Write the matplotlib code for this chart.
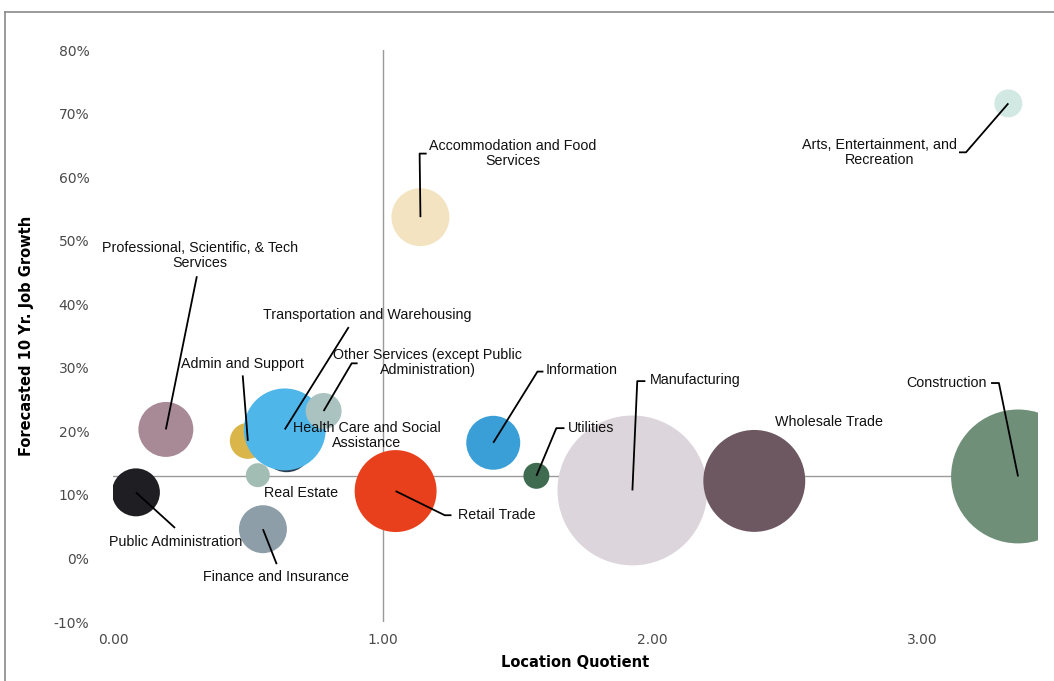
import matplotlib
matplotlib.use("Agg")
import matplotlib.pyplot as plt
from matplotlib.lines import Line2D
from matplotlib.ticker import FuncFormatter

# ---------------- data ----------------
industries = [
    "Manufacturing", "Wholesale Trade", "Construction", "Retail Trade",
    "Health Care and Social Assistance", "Admin and Support",
    "Other Services (except Public Administration)",
    "Transportation and Warehousing", "Real Estate", "Professional, Scientific, & Tech Services",
    "Public Administration", "Finance and Insurance", "Accommodation and Food Services",
    "Arts, Entertainment, and Recreation", "Information", "Utilities",
]
location_quotient = [1.926, 2.378, 3.356, 1.048, 0.644, 0.500, 0.781, 0.637,
                     0.537, 0.196, 0.085, 0.556, 1.140, 3.320, 1.410, 1.570]
job_growth = [10.7, 12.2, 12.9, 10.6, 17.5, 18.5, 23.2, 20.3,
              13.1, 20.3, 10.4, 4.6, 53.7, 71.6, 18.2, 13.0]
bubble_size = [5625, 2601, 4489, 1681, 625, 324, 324, 1681,
               144, 756, 576, 576, 841, 196, 729, 169]
colors = ["#dcd6dc", "#6d5862", "#6f8f78", "#e8401c", "#2c3e50", "#d9b54a",
          "#aac3c0", "#4fb6ea", "#a2bdb4", "#a88a96", "#1f1f23", "#8d9ea8",
          "#f3e3c1", "#d2e8e2", "#3a9fd6", "#3f6b50"]

y_ticks = [-10, 0, 10, 20, 30, 40, 50, 60, 70, 80]
x_ticks = [0, 1, 2, 3]
x_cross = 1.0     # y-axis crosses here
y_cross = 13.0    # x-axis crosses here

# label text, position, alignment, leader-line waypoints (from label towards bubble)
labels = {
    "Professional, Scientific, & Tech Services": ("Professional, Scientific, & Tech\nServices", (0.322, 47.7), "center", [(0.311, 44.4)]),
    "Admin and Support": ("Admin and Support", (0.481, 30.6), "center", [(0.481, 28.8)]),
    "Transportation and Warehousing": ("Transportation and Warehousing", (0.941, 38.3), "center", [(0.874, 36.4)]),
    "Other Services (except Public Administration)": ("Other Services (except Public\nAdministration)", (1.167, 30.9), "center", [(0.907, 30.7), (0.885, 30.7)]),
    "Health Care and Social Assistance": ("Health Care and Social\nAssistance", (0.941, 19.3), "center", None),
    "Accommodation and Food Services": ("Accommodation and Food\nServices", (1.481, 63.7), "center", [(1.163, 63.7), (1.137, 63.7)]),
    "Arts, Entertainment, and Recreation": ("Arts, Entertainment, and\nRecreation", (2.844, 63.9), "center", [(3.137, 63.9), (3.163, 63.9)]),
    "Information": ("Information", (1.604, 29.6), "left", [(1.596, 29.4), (1.574, 29.4)]),
    "Utilities": ("Utilities", (1.685, 20.5), "left", [(1.674, 20.5), (1.644, 20.5)]),
    "Manufacturing": ("Manufacturing", (1.989, 28.1), "left", [(1.974, 27.9), (1.944, 27.9)]),
    "Wholesale Trade": ("Wholesale Trade", (2.656, 21.5), "center", None),
    "Construction": ("Construction", (3.240, 27.6), "right", [(3.256, 27.6), (3.285, 27.6)]),
    "Retail Trade": ("Retail Trade", (1.281, 6.8), "left", [(1.255, 6.8), (1.230, 6.8)]),
    "Real Estate": ("Real Estate", (0.696, 10.3), "center", None),
    "Public Administration": ("Public Administration", (0.233, 2.6), "center", [(0.230, 4.8)]),
    "Finance and Insurance": ("Finance and Insurance", (0.604, -2.9), "center", [(0.607, -0.9)]),
}

# ---------------- figure ----------------
W, H = 1054, 681
fig = plt.figure(figsize=(W / 100, H / 100), dpi=100)
fig.patch.set_facecolor("white")
ax = fig.add_axes([113 / W, 1 - 622 / H, (1038 - 113) / W, (622 - 50) / H])
ax.set_xlim(0, 3.43)
ax.set_ylim(-10, 80)
for s in ax.spines.values():
    s.set_visible(False)

lab_font = ["Liberation Sans", "DejaVu Sans"]
tick_font = ["DejaVu Sans"]

# crossing axes
ax.axhline(y_cross, color="#9a9a9a", lw=1.0, zorder=1)
ax.axvline(x_cross, color="#9a9a9a", lw=1.0, zorder=1)

# bubbles (s in pt^2; radius px -> diameter pt)
draw_order = [4, 5, 7, 6, 8, 9, 10, 11, 12, 13, 14, 15, 0, 1, 2, 3]
for k, i in enumerate(draw_order):
    ax.scatter(location_quotient[i], job_growth[i], s=bubble_size[i] * 2.07,
               color=colors[i], edgecolors="none", zorder=2 + k * 0.01)

# labels & leader lines
for i, name in enumerate(industries):
    text, pos, ha, pts = labels[name]
    ax.text(pos[0], pos[1], text, ha=ha, va="center", fontsize=10.3,
            family=lab_font, color="#111111", zorder=5, linespacing=1.1)
    if pts:
        xs = [p[0] for p in pts] + [location_quotient[i]]
        ys = [p[1] for p in pts] + [job_growth[i]]
        ax.plot(xs, ys, color="black", lw=1.3, zorder=4, solid_capstyle="butt")

# ticks
ax.set_yticks(y_ticks)
ax.set_xticks(x_ticks)
ax.yaxis.set_major_formatter(FuncFormatter(lambda v, p: f"{v:.0f}%"))
ax.xaxis.set_major_formatter(FuncFormatter(lambda v, p: f"{v:.2f}"))
ax.tick_params(axis="both", length=0, labelsize=10, labelcolor="#4a4a4a")
ax.tick_params(axis="y", pad=17)
ax.tick_params(axis="x", pad=8)
for t in ax.get_xticklabels() + ax.get_yticklabels():
    t.set_family(tick_font)

ax.set_xlabel("Location Quotient", fontsize=10.5, fontweight="bold",
              family=tick_font, labelpad=6)
ax.set_ylabel("Forecasted 10 Yr. Job Growth", fontsize=10.5, fontweight="bold",
              family=tick_font, labelpad=14)

# outer frame (left & top borders)
fig.add_artist(Line2D([5 / W, 5 / W], [0, 1 - 12 / H], transform=fig.transFigure,
                      color="#8a8a8a", lw=1.2))
fig.add_artist(Line2D([5 / W, 1], [1 - 12 / H, 1 - 12 / H], transform=fig.transFigure,
                      color="#8a8a8a", lw=1.2))

fig.savefig("out.png", dpi=100, facecolor="white")
